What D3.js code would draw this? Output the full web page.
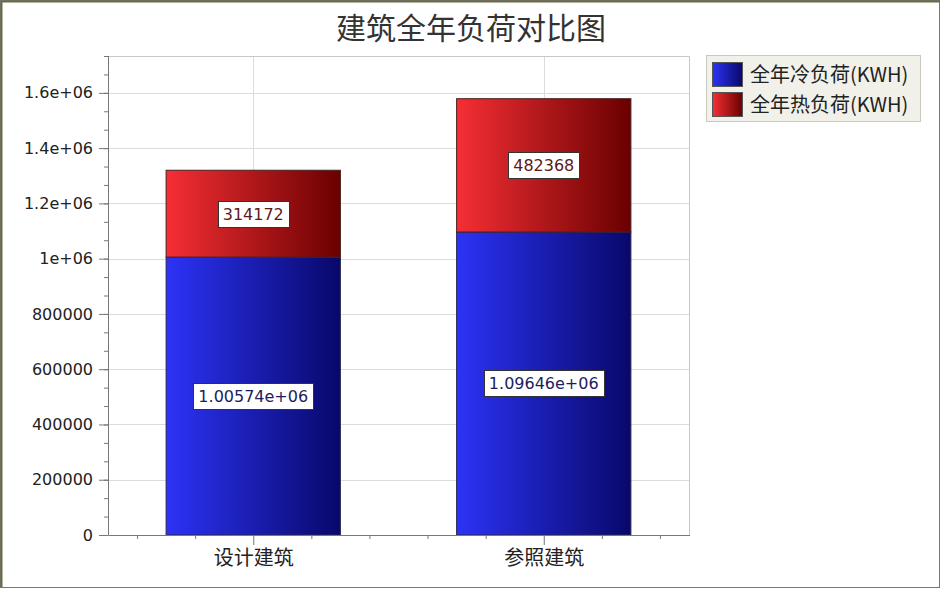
<!DOCTYPE html>
<html>
<head>
<meta charset="utf-8">
<script src="https://cdn.jsdelivr.net/npm/d3@7"></script>
<style>
  body { margin: 0; background: #fff; }
  svg { display: block; }
</style>
</head>
<body>
<script>
// chart data
var categories = ["设计建筑", "参照建筑"];
var coldLoad = [1005740, 1096460];
var heatLoad = [314172, 482368];
var coldLabels = ["1.00574e+06", "1.09646e+06"];
var heatLabels = ["314172", "482368"];
var seriesNames = ["全年冷负荷(KWH)", "全年热负荷(KWH)"];
var yTickValues = [0, 200000, 400000, 600000, 800000, 1000000, 1200000, 1400000, 1600000];
var yTickLabels = ["0", "200000", "400000", "600000", "800000", "1e+06", "1.2e+06", "1.4e+06", "1.6e+06"];

var w = 942;
var h = 590;
// plot area (window.top is read-only, so own names here)
var pL = 108, pR = 689, pT = 56, pB = 535;
var font = "DejaVu Sans, Verdana, sans-serif";
var cjk = "Noto Sans CJK SC, sans-serif";

var svg = d3.select('body').append('svg').attr("width", w).attr("height", h);

// gradients for the bars
var defs = svg.append("defs");
function grad(id, c1, c2) {
    var g = defs.append("linearGradient").attr("id", id)
        .attr("x1", "0%").attr("x2", "100%").attr("y1", "0%").attr("y2", "0%");
    g.append("stop").attr("offset", "0%").attr("stop-color", c1);
    g.append("stop").attr("offset", "100%").attr("stop-color", c2);
}
grad("gBlue", "#2c33f6", "#08086a");
grad("gRed", "#f52f35", "#6a0000");

// outer frame
svg.append("rect").attr("x", 0.5).attr("y", 0.5).attr("width", w - 3).attr("height", h - 3)
    .attr("fill", "none").attr("stroke", "#777");
svg.append("path").attr("d", "M1.5," + (h - 3) + "V1.5H" + (w - 2))
    .attr("fill", "none").attr("stroke", "#6b6a42").attr("stroke-width", 2);

// title
svg.append("text").text("建筑全年负荷对比图")
    .attr("x", 471).attr("y", 39)
    .attr("text-anchor", "middle")
    .attr("font-family", cjk).attr("font-size", "30px").attr("fill", "#333");

var xScale = d3.scaleLinear().domain([0, 1]).range([pL, pR]);
var xPos = d3.scalePoint().domain(categories).range([pL, pR]).padding(0.5);
var yScale = d3.scaleLinear().domain([0, 200000 * 26 / 3]).range([pB, pT]);
var barW = (pR - pL) * 0.3;

// grid
svg.append("g").selectAll("line")
    .data(yTickValues.slice(1))
    .enter().append("line")
    .attr("x1", pL).attr("x2", pR)
    .attr("y1", (d) => Math.round(yScale(d)) + 0.5).attr("y2", (d) => Math.round(yScale(d)) + 0.5)
    .attr("stroke", "#dcdcdc");
svg.append("g").selectAll("line")
    .data(categories)
    .enter().append("line")
    .attr("x1", (d) => Math.round(xPos(d)) + 0.5).attr("x2", (d) => Math.round(xPos(d)) + 0.5)
    .attr("y1", pT).attr("y2", pB)
    .attr("stroke", "#dcdcdc");

// plot border top/right
svg.append("path").attr("d", "M" + pL + "," + (pT + 0.5) + "H" + (pR + 0.5) + "V" + pB)
    .attr("fill", "none").attr("stroke", "#c8c8c8");

// stacked bars
var cold = svg.append("g");
cold.selectAll("rect")
    .data(categories)
    .enter().append("rect")
    .attr("x", (d) => xPos(d) - barW / 2)
    .attr("y", (d, i) => yScale(coldLoad[i]))
    .attr("width", barW)
    .attr("height", (d, i) => yScale(0) - yScale(coldLoad[i]))
    .attr("fill", "url(#gBlue)")
    .attr("stroke", "#2a2a55").attr("stroke-width", 1);

var heat = svg.append("g");
heat.selectAll("rect")
    .data(categories)
    .enter().append("rect")
    .attr("x", (d) => xPos(d) - barW / 2)
    .attr("y", (d, i) => yScale(coldLoad[i] + heatLoad[i]))
    .attr("width", barW)
    .attr("height", (d, i) => yScale(coldLoad[i]) - yScale(coldLoad[i] + heatLoad[i]))
    .attr("fill", "url(#gRed)")
    .attr("stroke", "#4a2020").attr("stroke-width", 1);

// value labels in white boxes
function addLabel(x, y, txt, color) {
    var g = svg.append("g");
    var t = g.append("text").text(txt)
        .attr("x", x).attr("y", y + 6)
        .attr("text-anchor", "middle")
        .attr("font-family", font).attr("font-size", "16px")
        .attr("fill", color);
    var bb = t.node().getBBox();
    g.insert("rect", "text")
        .attr("x", Math.round(bb.x - 5) + 0.5).attr("y", Math.round(y - 13) + 0.5)
        .attr("width", Math.round(bb.width + 10)).attr("height", 26)
        .attr("fill", "#fff").attr("stroke", "#333");
}
categories.forEach((c, i) => {
    addLabel(xPos(c), (yScale(0) + yScale(coldLoad[i])) / 2, coldLabels[i], "#1d1d5e");
    addLabel(xPos(c), (yScale(coldLoad[i]) + yScale(coldLoad[i] + heatLoad[i])) / 2, heatLabels[i], "#5e1818");
});

// y axis
var yAxis = d3.axisLeft(yScale).tickValues(yTickValues)
    .tickFormat((d, i) => yTickLabels[i]).tickSize(9).tickPadding(6);
var yMinor = d3.axisLeft(yScale).tickValues(d3.range(0, 27).map((k) => k * 200000 / 3))
    .tickFormat("").tickSize(4);
var gy = svg.append("g").attr("transform", "translate(" + pL + ",0)").call(yAxis);
var gym = svg.append("g").attr("transform", "translate(" + pL + ",0)").call(yMinor);

// x axis
var xAxis = d3.axisBottom(xPos).tickSize(10).tickPadding(6);
var xMinor = d3.axisBottom(xScale).tickValues([0.05, 0.15, 0.35, 0.45, 0.55, 0.65, 0.85, 0.95])
    .tickFormat("").tickSize(4);
var gx = svg.append("g").attr("transform", "translate(0," + pB + ")").call(xAxis);
var gxm = svg.append("g").attr("transform", "translate(0," + pB + ")").call(xMinor);

[gy, gym, gx, gxm].forEach((g) => {
    g.select(".domain").remove();
    g.selectAll("line").attr("stroke", "#777");
});
svg.append("path").attr("d", "M" + (pL + 0.5) + "," + pT + "V" + (pB + 0.5) + "H" + (pR + 1))
    .attr("fill", "none").attr("stroke", "#777");

gy.selectAll("text").attr("font-family", font).attr("font-size", "16px").attr("fill", "#222");
gx.selectAll("text").attr("font-family", cjk).attr("font-size", "20px").attr("fill", "#222");

// legend
var legend = svg.append("g");
legend.append("rect").attr("x", 706.5).attr("y", 55.5).attr("width", 214).attr("height", 66)
    .attr("fill", "#f1f1ea").attr("stroke", "#c9c9bd");
legend.selectAll(".sw")
    .data(seriesNames)
    .enter().append("rect")
    .attr("x", 712.5).attr("y", (d, i) => 62.5 + i * 30)
    .attr("width", 30).attr("height", 24)
    .attr("fill", (d, i) => i == 0 ? "url(#gBlue)" : "url(#gRed)")
    .attr("stroke", "#555");
legend.selectAll("text")
    .data(seriesNames)
    .enter().append("text")
    .text((d) => d)
    .attr("x", 750).attr("y", (d, i) => 82 + i * 30)
    .attr("font-family", cjk).attr("font-size", "20px").attr("fill", "#222");
</script>
</body>
</html>
